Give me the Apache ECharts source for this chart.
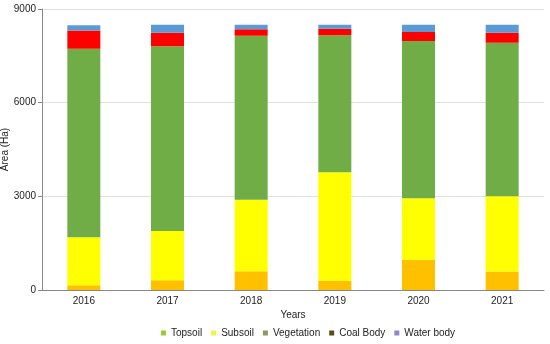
<!DOCTYPE html>
<html>
<head>
<meta charset="utf-8">
<script src="https://cdn.jsdelivr.net/npm/echarts@6/dist/echarts.min.js"></script>
<style>html,body{margin:0;padding:0;background:#fff}#c{width:550px;height:344px}</style>
</head>
<body>
<div id="c"></div>
<script>
const years = ['2016','2017','2018','2019','2020','2021'];
const topsoil = [150, 310, 600, 300, 970, 590];
const subsoil = [1540, 1580, 2290, 3470, 1965, 2410];
const vegetation = [6040, 5916, 5250, 4388, 5040, 4920];
const coalBody = [580, 436, 215, 212, 288, 320];
const waterBody = [170, 256, 140, 128, 235, 255];
const yTicks = [0, 3000, 6000, 9000];

const names = ['Topsoil','Subsoil','Vegetation','Coal Body','Water body'];
const barColors = ['#ffc000','#ffff00','#70ad47','#ff0000','#5b9bd5'];
const legendColors = ['#9acd32','#eef542','#8a9a5b','#5c4a14','#8a8ad0'];
const datas = [topsoil, subsoil, vegetation, coalBody, waterBody];

const chart = echarts.init(document.getElementById('c'), null, {renderer:'canvas'});
chart.setOption({
  animation: false,
  textStyle: {fontFamily: 'Liberation Sans, Arial, sans-serif'},
  grid: {left: 42, right: 6, top: 9, bottom: 54, containLabel: false, outerBoundsMode: 'none'},
  legend: {
    bottom: 1, left: 156,
    itemWidth: 5, itemHeight: 5, itemGap: 9,
    icon: 'rect',
    textStyle: {fontSize: 10, color: '#222', fontFamily: 'Liberation Sans, Arial, sans-serif'},
    data: names.map((n,i)=>({name:n, itemStyle:{color: legendColors[i]}}))
  },
  xAxis: {
    type: 'category', data: years,
    name: 'Years', nameLocation: 'middle', nameGap: 20, nameMoveOverlap: false,
    nameTextStyle: {fontSize: 10, color: '#222'},
    axisLine: {lineStyle: {color: '#888'}},
    axisTick: {show: false},
    axisLabel: {fontSize: 10, color: '#222', margin: 6}
  },
  yAxis: {
    type: 'value', min: 0, max: 9000, interval: 3000,
    name: 'Area (Ha)', nameLocation: 'middle', nameGap: 32, nameMoveOverlap: false,
    nameTextStyle: {fontSize: 10, color: '#222'},
    axisLine: {show: true, lineStyle: {color: '#888'}},
    axisTick: {show: true, inside: false, length: 4, lineStyle: {color: '#888'}},
    axisLabel: {fontSize: 10, color: '#222', margin: 6,
      formatter: v => yTicks.includes(v) ? String(v) : ''},
    splitLine: {lineStyle: {color: '#e0e0e0'}}
  },
  series: names.map((n,i)=>({
    name: n, type: 'bar', stack: 'total', barWidth: 33,
    itemStyle: {color: barColors[i]},
    data: datas[i]
  }))
});
</script>
</body>
</html>
